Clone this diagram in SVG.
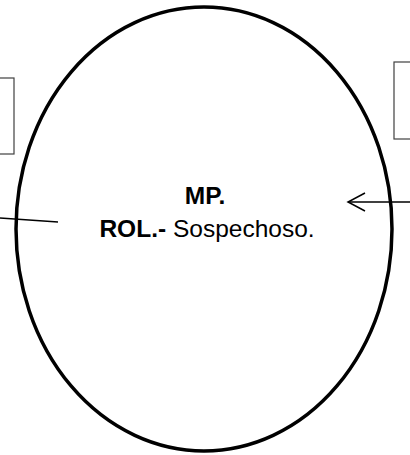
<svg xmlns="http://www.w3.org/2000/svg" width="410" height="455" viewBox="0 0 410 455">
<style>
.box{fill:#fff;stroke:#404040;stroke-width:1.2}
.ell{fill:#fff;stroke:#000;stroke-width:3.5}
.con{fill:none;stroke:#000;stroke-width:1.5}
.t{font-family:"Liberation Sans",Arial,sans-serif;font-size:24.5px;fill:#000}
.b{font-weight:bold}
</style>
<g id="box-left"><rect class="box" x="-5" y="78" width="19" height="76"/></g>
<g id="box-right"><rect class="box" x="394" y="62" width="25" height="77"/></g>
<g id="mp">
<ellipse class="ell" cx="204" cy="229" rx="188" ry="222"/>
<text class="t" text-anchor="middle"><tspan class="b" x="205" y="204">MP.</tspan><tspan x="207" y="237"><tspan class="b">ROL.-</tspan> Sospechoso.</tspan></text>
</g>
<g id="connectors">
<line class="con" x1="0" y1="218" x2="58" y2="222"/>
<line class="con" x1="410" y1="202" x2="348" y2="202"/>
<polyline class="con" points="365,193 348,202 365,211"/>
</g>
</svg>
